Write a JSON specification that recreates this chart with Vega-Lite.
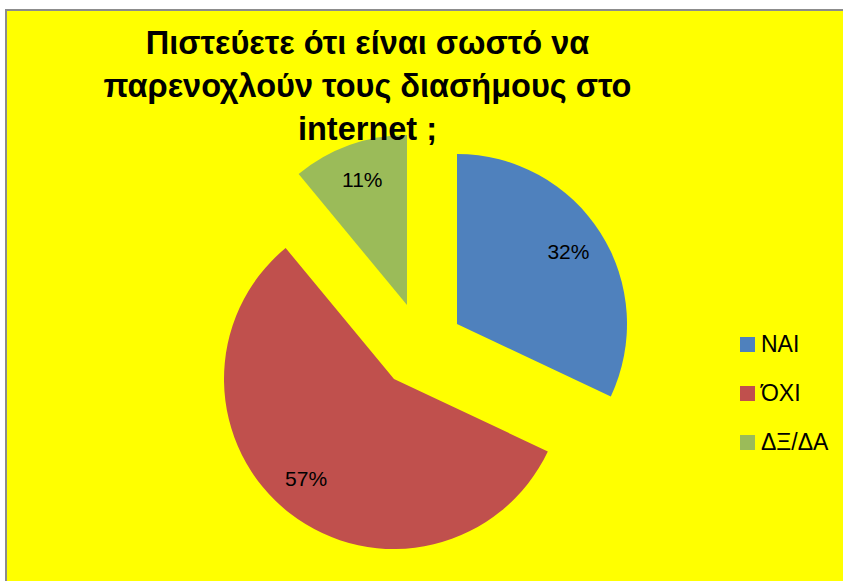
{
  "$schema": "https://vega.github.io/schema/vega-lite/v6.json",
  "autosize": {"type": "none"},
  "width": 839,
  "height": 573,
  "padding": {"left": 6, "top": 10, "right": 0, "bottom": 0},
  "background": "white",
  "view": {"fill": "#FFFF00", "stroke": "#8c8c8c", "strokeWidth": 2},
  "config": {
    "view": {"fill": "#FFFF00", "stroke": "#8c8c8c", "strokeWidth": 2},
    "font": "Liberation Sans"
  },
  "title": {
    "text": ["Πιστεύετε ότι είναι σωστό να", "παρενοχλούν τους διασήμους στο", "internet ;"],
    "font": "Liberation Sans",
    "fontSize": 32.5,
    "fontWeight": "bold",
    "lineHeight": 43,
    "color": "black",
    "anchor": "middle",
    "frame": "group",
    "baseline": "top",
    "offset": -136,
    "dx": -58
  },
  "data": {
    "values": [
      {"answer": "ΝΑΙ", "share": 0.32},
      {"answer": "ΌΧΙ", "share": 0.57},
      {"answer": "ΔΞ/ΔΑ", "share": 0.11}
    ]
  },
  "transform": [{"window": [{"op": "row_number", "as": "idx"}]}],
  "encoding": {
    "theta": {"field": "share", "type": "quantitative", "stack": true},
    "order": {"field": "idx", "type": "quantitative"},
    "color": {
      "field": "answer",
      "type": "nominal",
      "scale": {"domain": ["ΝΑΙ", "ΌΧΙ", "ΔΞ/ΔΑ"], "range": ["#4F81BD", "#C0504D", "#9BBB59"]},
      "legend": {
        "title": null,
        "orient": "none",
        "legendX": 730,
        "legendY": 323,
        "padding": 0,
        "symbolType": "square",
        "symbolSize": 225,
        "symbolStrokeWidth": 0,
        "symbolOpacity": 1,
        "labelFont": "Liberation Sans",
        "labelFontSize": 23,
        "labelColor": "black",
        "labelOffset": 2,
        "rowPadding": 25
      }
    }
  },
  "layer": [
    {
      "mark": {"type": "arc", "outerRadius": 170, "xOffset": 31.5, "yOffset": 27.5},
      "encoding": {"opacity": {"condition": {"test": "datum.answer === 'ΝΑΙ'", "value": 1}, "value": 0}}
    },
    {
      "mark": {"type": "arc", "outerRadius": 170, "xOffset": -31.5, "yOffset": 82.5},
      "encoding": {"opacity": {"condition": {"test": "datum.answer === 'ΌΧΙ'", "value": 1}, "value": 0}}
    },
    {
      "mark": {"type": "arc", "outerRadius": 170, "xOffset": -18.5, "yOffset": 8.5},
      "encoding": {"opacity": {"condition": {"test": "datum.answer === 'ΔΞ/ΔΑ'", "value": 1}, "value": 0}}
    },
    {
      "mark": {"type": "text", "radius": 132, "xOffset": 31.5, "yOffset": 27.5, "fontSize": 21, "font": "Liberation Sans"},
      "encoding": {
        "text": {"field": "share", "type": "quantitative", "format": ".0%"},
        "color": {"value": "black"},
        "opacity": {"condition": {"test": "datum.answer === 'ΝΑΙ'", "value": 1}, "value": 0}
      }
    },
    {
      "mark": {"type": "text", "radius": 132, "xOffset": -38.5, "yOffset": 79.5, "fontSize": 21, "font": "Liberation Sans"},
      "encoding": {
        "text": {"field": "share", "type": "quantitative", "format": ".0%"},
        "color": {"value": "black"},
        "opacity": {"condition": {"test": "datum.answer === 'ΌΧΙ'", "value": 1}, "value": 0}
      }
    },
    {
      "mark": {"type": "text", "radius": 132, "xOffset": -18.5, "yOffset": 8.5, "fontSize": 21, "font": "Liberation Sans"},
      "encoding": {
        "text": {"field": "share", "type": "quantitative", "format": ".0%"},
        "color": {"value": "black"},
        "opacity": {"condition": {"test": "datum.answer === 'ΔΞ/ΔΑ'", "value": 1}, "value": 0}
      }
    }
  ]
}
